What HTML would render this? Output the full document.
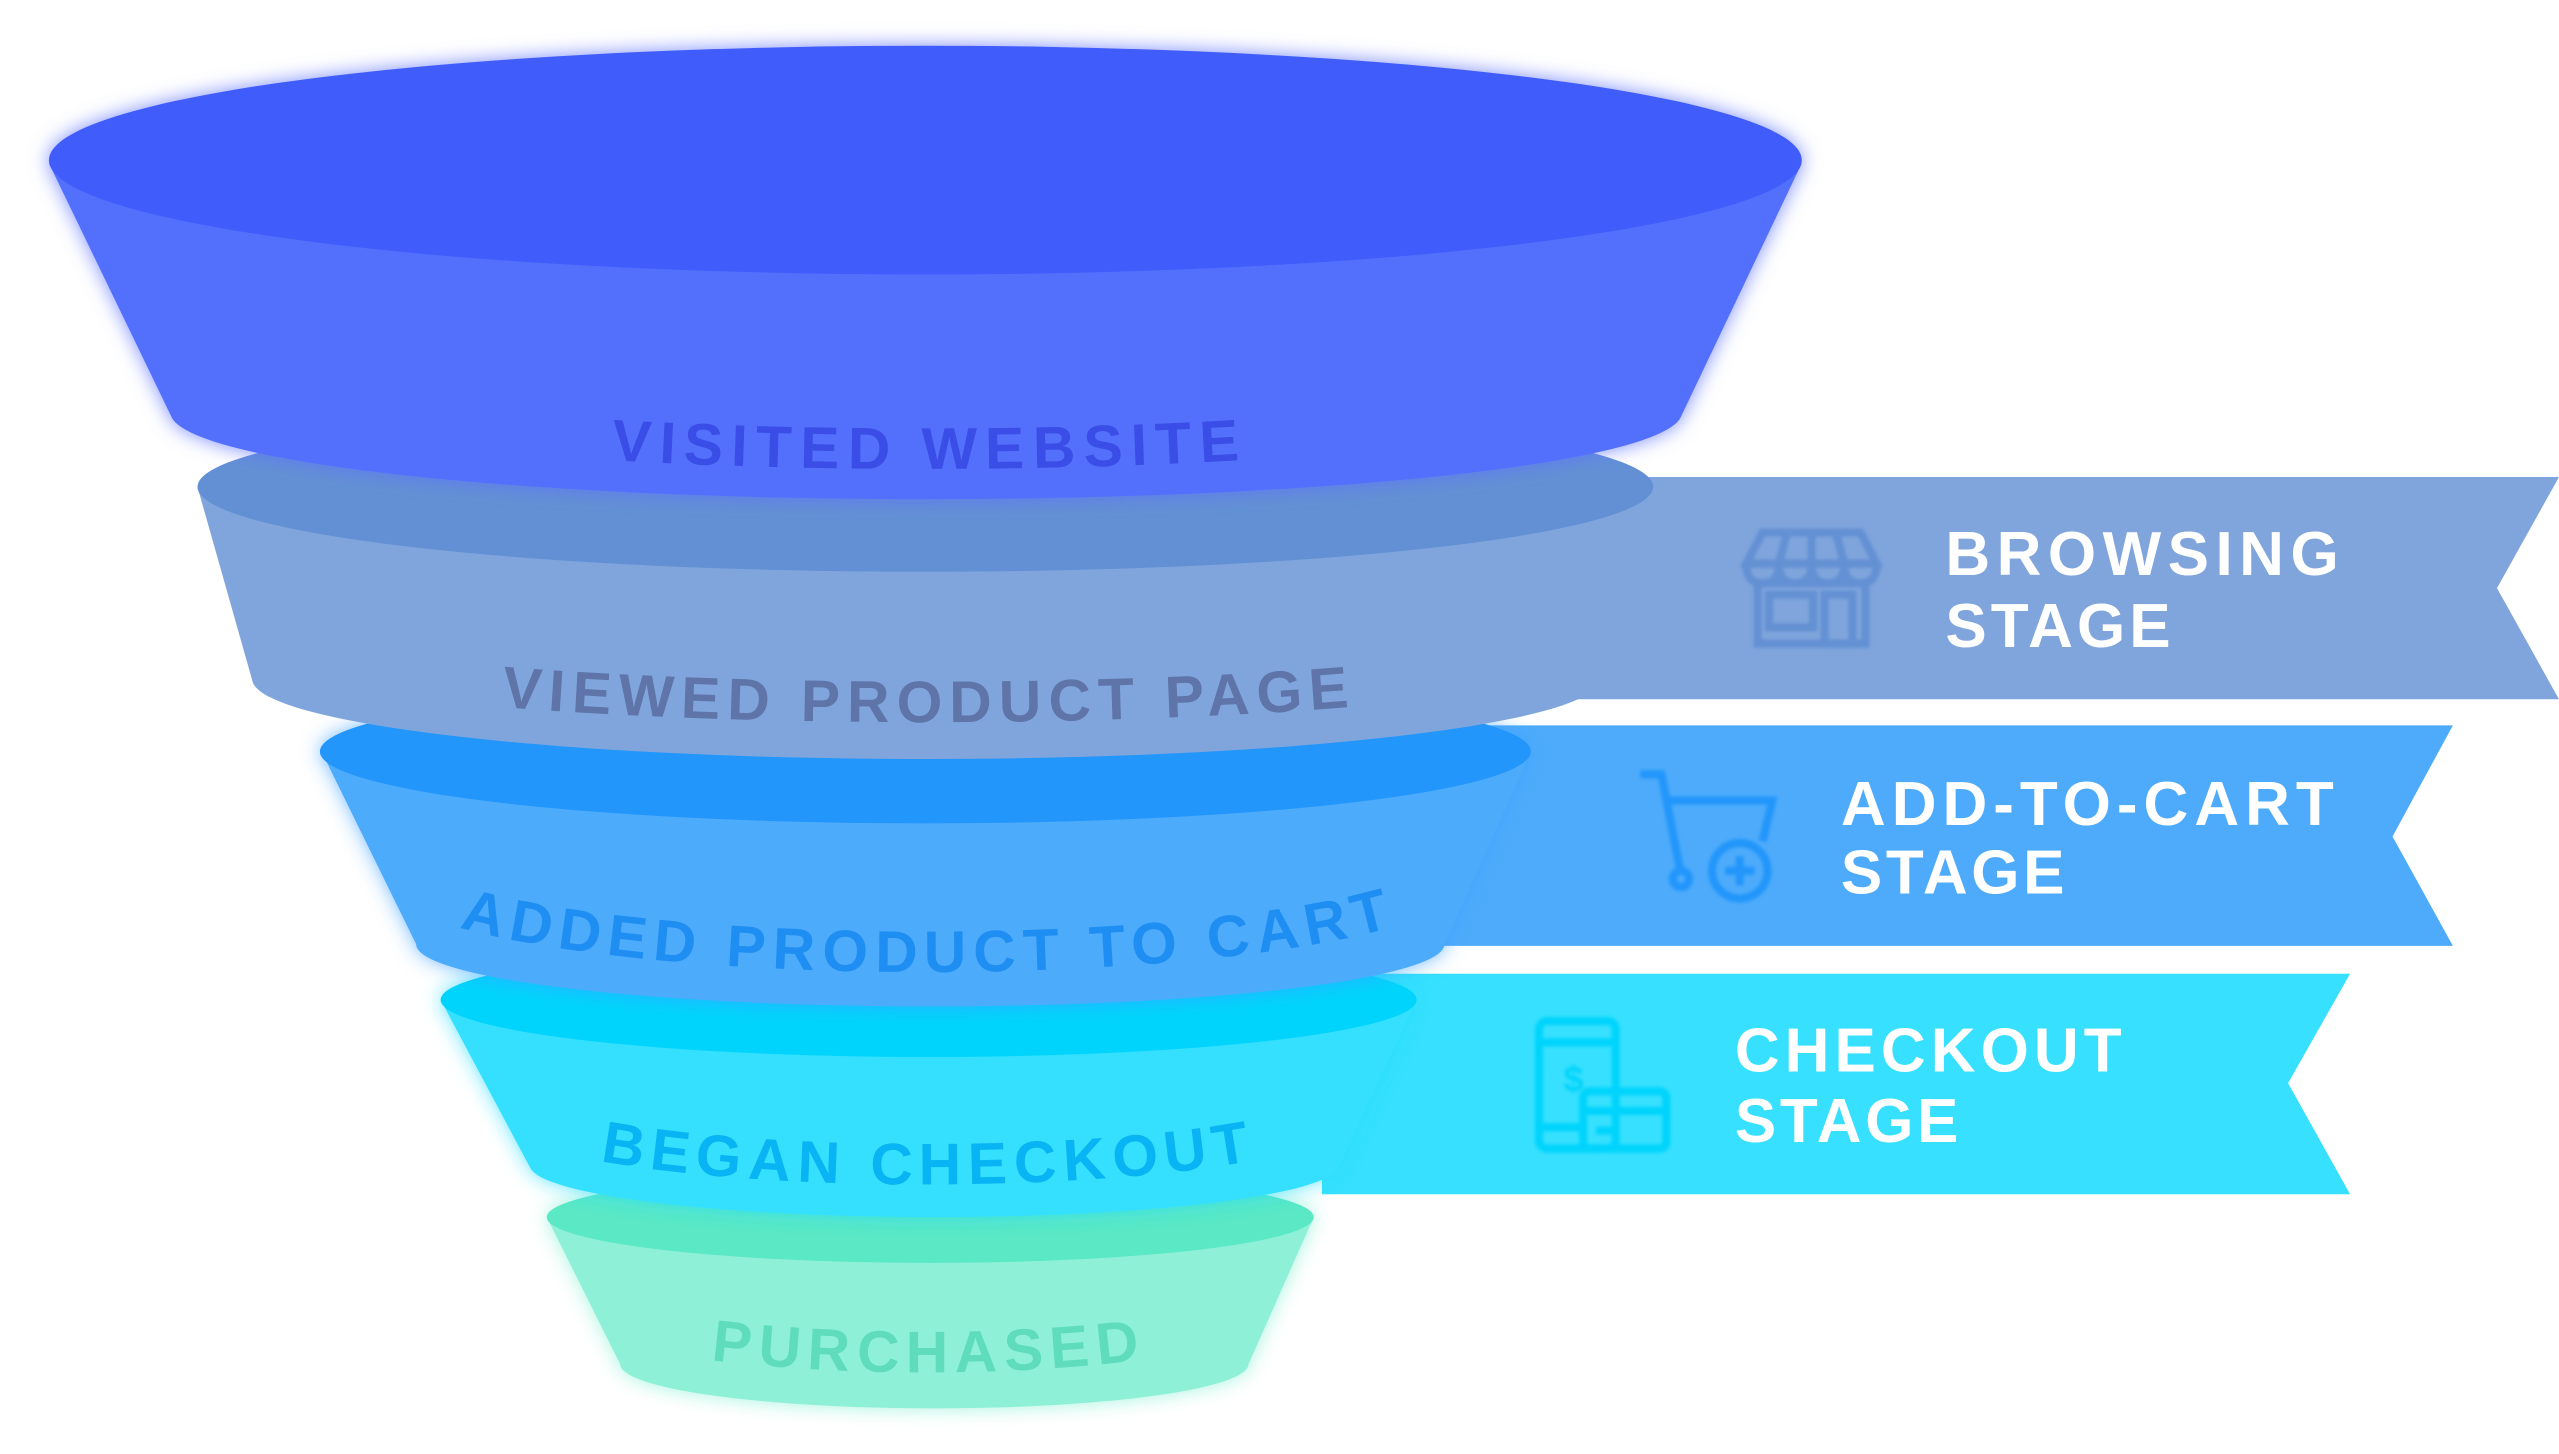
<!DOCTYPE html>
<html><head><meta charset="utf-8"><style>html,body{margin:0;padding:0;background:#fff;}svg{display:block}</style></head>
<body>
<svg width="2559" height="1454" viewBox="0 0 1568 890" preserveAspectRatio="none" xmlns="http://www.w3.org/2000/svg" font-family="Liberation Sans, sans-serif" font-weight="bold">
<defs>
<filter id="g1" x="-10%" y="-20%" width="120%" height="140%"><feDropShadow dx="0" dy="0" stdDeviation="6" flood-color="#5a70ff" flood-opacity="0.8"/></filter>
<filter id="g3" x="-10%" y="-20%" width="120%" height="140%"><feDropShadow dx="0" dy="0" stdDeviation="6" flood-color="#3aa0ff" flood-opacity="0.7"/></filter>
<filter id="g4" x="-10%" y="-20%" width="120%" height="140%"><feDropShadow dx="0" dy="0" stdDeviation="6" flood-color="#20dcff" flood-opacity="0.7"/></filter>
<filter id="g5" x="-10%" y="-20%" width="120%" height="140%"><feDropShadow dx="0" dy="0" stdDeviation="6" flood-color="#7ff0d0" flood-opacity="0.7"/></filter>
<filter id="ib" x="-20%" y="-20%" width="140%" height="140%"><feGaussianBlur stdDeviation="1"/></filter>
<path id="p1" d="M137,237 A430,50 0 0 0 997,237"/>
<path id="p2" d="M117,392 A450,50 0 0 0 1017,392"/>
<path id="p3" d="M237,540 A330,55 0 0 0 897,540"/>
<path id="p4" d="M307,685 A260,40 0 0 0 827,685"/>
<path id="p5" d="M317,790 A250,50 0 0 0 817,790"/>
</defs>

<polygon points="945,292 1568,292 1530,360 1568,428 945,428" fill="#7fa5dc"/>
<polygon points="880,444 1503,444 1466,512 1503,579 880,579" fill="#4eabfb"/>
<polygon points="810,596 1440,596 1402,663 1440,731 810,731" fill="#36e0fe"/>

<g filter="url(#g5)">
<path d="M335,745 L380,835 A192,27 0 0 0 765,835 L805,745 Z" fill="#8ff0d8"/>
<ellipse cx="570" cy="745" rx="235" ry="28" fill="#5ae8c5"/>
</g>
<g filter="url(#g4)">
<path d="M270,612 L325,715 A248,32 0 0 0 820,715 L868,612 Z" fill="#36e0fe"/>
<ellipse cx="569" cy="612" rx="299" ry="35" fill="#00d4fc"/>
</g>
<g filter="url(#g3)">
<path d="M197,460 L255,578 A315,38 0 0 0 885,578 L938,460 Z" fill="#4eabfb"/>
<ellipse cx="567" cy="460" rx="371" ry="44" fill="#2496fb"/>
</g>
<path d="M121,298 L155,418 A413,49 0 0 0 980,418 L1013,298 Z" fill="#7fa5dc"/>
<ellipse cx="567" cy="298" rx="446" ry="52" fill="#6390d4"/>
<g filter="url(#g1)">
<path d="M30,100 L105,255 A463,53 0 0 0 1030,255 L1104,100 Z" fill="#5270fd"/>
<ellipse cx="567" cy="98" rx="537" ry="70" fill="#3f5cfb"/>
</g>

<text font-size="36" fill="#3a4de6" text-anchor="middle"><textPath href="#p1" startOffset="50%" textLength="385" lengthAdjust="spacing">VISITED WEBSITE</textPath></text>
<text font-size="36" fill="#5f74a8" text-anchor="middle"><textPath href="#p2" startOffset="50%" textLength="520" lengthAdjust="spacing">VIEWED PRODUCT PAGE</textPath></text>
<text font-size="36" fill="#1f8ef2" text-anchor="middle"><textPath href="#p3" startOffset="50%" textLength="575" lengthAdjust="spacing">ADDED PRODUCT TO CART</textPath></text>
<text font-size="36" fill="#08b4f4" text-anchor="middle"><textPath href="#p4" startOffset="50%" textLength="400" lengthAdjust="spacing">BEGAN CHECKOUT</textPath></text>
<text font-size="36" fill="#5fdcbc" text-anchor="middle"><textPath href="#p5" startOffset="50%" textLength="263" lengthAdjust="spacing">PURCHASED</textPath></text>

<g fill="#ffffff" font-size="38">
<text x="1192" y="352" textLength="241" lengthAdjust="spacing">BROWSING</text>
<text x="1192" y="396" textLength="138" lengthAdjust="spacing">STAGE</text>
<text x="1128" y="505" textLength="302" lengthAdjust="spacing">ADD-TO-CART</text>
<text x="1128" y="547" textLength="137" lengthAdjust="spacing">STAGE</text>
<text x="1063" y="656" textLength="237" lengthAdjust="spacing">CHECKOUT</text>
<text x="1063" y="699" textLength="137" lengthAdjust="spacing">STAGE</text>
</g>

<g fill="none" stroke="#6390d4" stroke-width="5" filter="url(#ib)">
<path d="M1080,326 L1140,326 L1150,345 L1070,345 Z"/>
<path d="M1070,345 Q1070,357 1080,357 Q1090,357 1090,345 Q1090,357 1100,357 Q1110,357 1110,345 Q1110,357 1120,357 Q1130,357 1130,345 Q1130,357 1140,357 Q1150,357 1150,345"/>
<path d="M1095,326 L1090,345 M1110,326 L1110,345 M1125,326 L1130,345"/>
<rect x="1077" y="357" width="66" height="37"/>
<rect x="1084" y="364" width="27" height="20"/>
<rect x="1118" y="364" width="17" height="30"/>
</g>
<g fill="none" stroke="#2496fb" stroke-width="5" filter="url(#ib)">
<path d="M1005,474 L1018,474 L1030,535"/>
<path d="M1020,490 L1086,490 L1080,515"/>
<circle cx="1030" cy="538" r="5"/>
<circle cx="1066" cy="533" r="17"/>
<path d="M1066,524 V542 M1057,533 H1075"/>
</g>
<g fill="none" stroke="#00d4fc" stroke-width="5" filter="url(#ib)">
<rect x="943" y="625" width="47" height="78" rx="5"/>
<path d="M943,638 H990 M943,690 H970"/>
<rect x="970" y="668" width="51" height="35" rx="4"/>
<path d="M970,680 H1021 M978,692 H992"/>
<text x="958" y="668" font-size="22" fill="#00d4fc" stroke="none">$</text>
</g>
</svg>
</body></html>
